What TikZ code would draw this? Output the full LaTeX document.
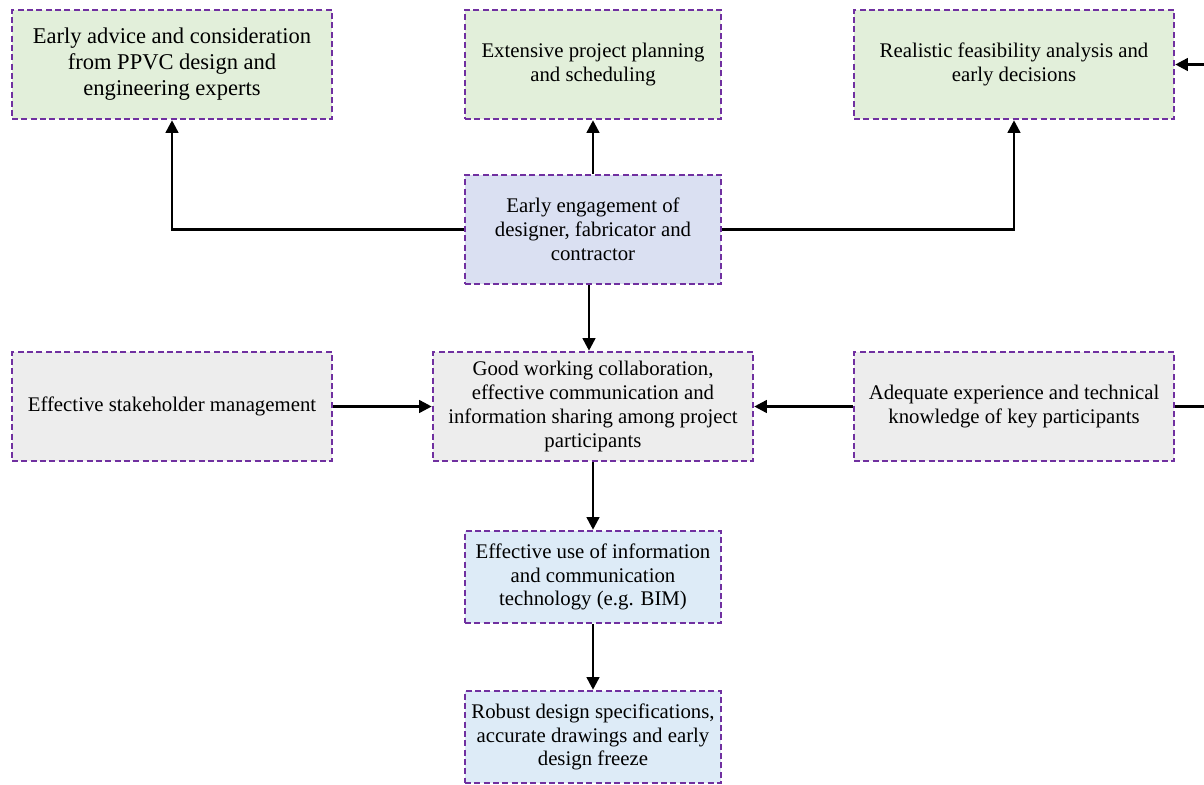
\documentclass[tikz,border=0pt]{standalone}
\usepackage{fontspec}
\setmainfont{Liberation Serif}
\usetikzlibrary{arrows.meta}
\definecolor{boxpurple}{HTML}{7030A0}
\definecolor{fgreen}{HTML}{E2EFDA}
\definecolor{flav}{HTML}{DAE0F2}
\definecolor{fgray}{HTML}{EDEDED}
\definecolor{fblue}{HTML}{DDEBF7}
\begin{document}
\begin{tikzpicture}[x=0.75pt,y=-0.75pt,
  box/.style={draw=boxpurple, dash pattern=on 4.5pt off 2.5pt, line width=1.9pt,
    align=center, inner sep=0pt, font=\fontsize{15.6}{17.8}\selectfont, text=black},
  wide/.style={box, minimum width=240pt, minimum height=81.75pt},
  narrow/.style={box, minimum width=192pt, minimum height=81.75pt},
  short/.style={box, minimum width=192pt, minimum height=69pt},
  conn/.style={line width=1.9pt, black},
  arr/.style={conn, -{Triangle[length=9.5pt,width=9.5pt]}}]
\useasboundingbox (0,0) rectangle (1204,785);
\node[wide, fill=fgreen, font=\fontsize{16.9}{19.5}\selectfont] (A) at (172,64.5) {Early advice and consideration\\from PPVC design and\\engineering experts};
\node[narrow, fill=fgreen] (B) at (593,64.5) {Extensive project planning\\and scheduling};
\node[wide, fill=fgreen] (C) at (1014,64.5) {Realistic feasibility analysis and\\early decisions};
\node[narrow, fill=flav] (D) at (593,229.5) {Early engagement of\\designer, fabricator and\\contractor};
\node[wide, fill=fgray] (E) at (172,406.5) {Effective stakeholder management};
\node[wide, fill=fgray] (F) at (593,406.5) {Good working collaboration,\\effective communication and\\information sharing among project\\participants};
\node[wide, fill=fgray] (G) at (1014,406.5) {Adequate experience and technical\\knowledge of key participants};
\node[short, fill=fblue] (H) at (593,577) {Effective use of information\\and communication\\technology (e.g. BIM)};
\node[short, fill=fblue] (I) at (593,737) {Robust design specifications,\\accurate drawings and early\\design freeze};
\coordinate (cin) at (1204,64.5);
\coordinate (gout) at (1204,406.5);
\draw[arr] (D.west) -| (A.south);
\draw[arr] (D.north) -- (B.south);
\draw[arr] (D.east) -| (C.south);
\draw[arr] ([xshift=-3pt]D.south) -- ([xshift=-3pt]F.north);
\draw[arr] (E.east) -- (F.west);
\draw[arr] (G.west) -- (F.east);
\draw[conn] (G.east) -- (gout);
\draw[arr] (cin) -- (C.east);
\draw[arr] (F.south) -- (H.north);
\draw[arr] (H.south) -- (I.north);
\end{tikzpicture}
\end{document}
